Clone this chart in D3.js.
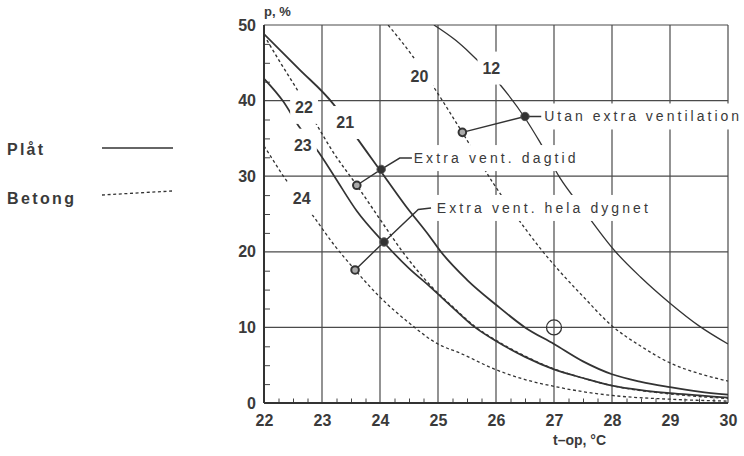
<!DOCTYPE html>
<html><head><meta charset="utf-8">
<script src="https://cdn.jsdelivr.net/npm/d3@7"></script>
<style>body{margin:0;background:#fff}svg{display:block}</style>
</head><body><svg id="c" width="744" height="456"></svg>
<script>
// ---- data ----
const xTicks=[22,23,24,25,26,27,28,29,30];
const yTicks=[0,10,20,30,40,50];
const xMinor=[22.25,22.5,22.75,23.25,23.5,23.75,24.25,24.5,24.75,25.25,25.5,25.75,26.25,26.5,26.75,27.25,27.5,27.75,28.25,28.5,28.75,29.25,29.5,29.75];
const yMinor=[2.5,5,7.5,12.5,15,17.5,22.5,25,27.5,32.5,35,37.5,42.5,45,47.5];
const curve12=[[24.93,50],[25.3,48.0],[25.55,46.3],[26.05,42.3],[26.5,37.7],[26.75,34.6],[27.1,29.8],[27.5,25.6],[28.05,20.1],[28.5,16.6],[29,13.2],[29.5,10.2],[30,7.8]];
const curve20=[[24.14,50],[24.57,45.8],[24.95,41.5],[25.41,35.9],[25.95,29.1],[26.5,23.1],[26.8,20.1],[27.1,17.4],[27.5,14.1],[28,10.2],[28.5,7.5],[29,5.3],[29.5,3.9],[30,2.9]];
const curve21=[[22,48.8],[22.6,44.2],[23.2,39.5],[23.57,35.4],[24,30.8],[24.45,26.0],[24.86,22.0],[25.03,20.2],[25.5,16.3],[26,13.0],[26.5,10.0],[27,7.8],[27.5,5.5],[28,3.8],[28.5,2.8],[29,2.1],[29.5,1.5],[30,1.1]];
const curve22=[[22.05,48.0],[22.3,44.8],[22.56,41.6],[22.88,37.2],[23.2,33.1],[23.6,28.8],[24,24.3],[24.4,19.9],[24.9,15.3],[25.3,12.4],[25.64,10.1],[26,8.3],[26.5,6.2],[27,4.5],[27.5,3.3],[28,2.3],[29,1.2],[30,0.6]];
const curve23=[[22,42.9],[22.33,39.9],[22.6,36.6],[22.94,33.2],[23.22,29.9],[23.6,25.4],[24.07,21.2],[24.5,17.8],[24.86,15.4],[25.3,12.3],[25.64,10.0],[26,8.2],[26.5,6.1],[27,4.45],[27.5,3.3],[28,2.3],[28.5,1.7],[29,1.3],[29.5,1.0],[30,0.7]];
const curve24=[[22,34.0],[22.1,32.8],[22.3,30.4],[22.88,24.4],[23.2,21.0],[23.57,17.6],[24,14.0],[24.5,10.6],[25,7.8],[25.38,6.6],[26,4.4],[26.5,3.1],[27,2.2],[27.5,1.5],[28,1.0],[29,0.5],[30,0.25]];
const curveNames=["12","20","21","22","23","24"];
const curveLabelPos=[[25.92,44.3],[24.68,43.2],[23.4,37.1],[22.69,39.1],[22.67,34.1],[22.65,27.1]];
const annotTexts=["Utan extra ventilation","Extra vent. dagtid","Extra vent. hela dygnet"];
const annotPlat=[[26.5,37.9],[24.02,30.9],[24.07,21.3]];
const annotBetong=[[25.42,35.8],[23.6,28.8],[23.57,17.6]];
const annotKnee=[[26.5,37.9],[24.34,32.4],[24.66,25.6]];
const annotEnd=[[26.78,37.9],[24.55,32.4],[24.88,25.8]];
const annotTextStart=[[26.83,37.9],[24.58,32.4],[24.98,25.8]];
const annotTextWidth=[195,162,211];
const bigCircle=[27,10];
const legendNames=["Plåt","Betong"];

// ---- drawing ----
const svg=d3.select("#c");
const x=d3.scaleLinear().domain([22,30]).range([264,728]);
const y=d3.scaleLinear().domain([0,50]).range([403,25]);
const ink="#3a3a3a";
const font="'Liberation Sans', Arial, Helvetica, sans-serif";

svg.append("rect").attr("width",744).attr("height",456).attr("fill","#fff");

// grid
const grid=svg.append("g").attr("stroke","#4a4a4a").attr("stroke-width",1.2);
grid.selectAll("line.v").data(xTicks.slice(1)).join("line").attr("class","v")
  .attr("x1",d=>x(d)).attr("x2",d=>x(d)).attr("y1",y(0)).attr("y2",y(50));
grid.selectAll("line.h").data(yTicks.slice(1)).join("line").attr("class","h")
  .attr("x1",x(22)).attr("x2",x(30)).attr("y1",d=>y(d)).attr("y2",d=>y(d));

// minor ticks
const xm=svg.append("g").attr("transform",`translate(0,${y(0)})`)
  .call(d3.axisBottom(x).tickValues(xMinor).tickSize(-4.5).tickFormat(""));
xm.select(".domain").remove();
xm.selectAll("line").attr("stroke","#444").attr("stroke-width",1);
const ym=svg.append("g").attr("transform",`translate(${x(22)},0)`)
  .call(d3.axisLeft(y).tickValues(yMinor).tickSize(-6).tickFormat(""));
ym.select(".domain").remove();
ym.selectAll("line").attr("stroke","#444").attr("stroke-width",1);

// tick labels
const xa=svg.append("g").attr("transform",`translate(0,${y(0)})`)
  .call(d3.axisBottom(x).tickValues(xTicks).tickSize(0).tickPadding(12).tickFormat(d3.format("d")));
xa.select(".domain").remove();
xa.selectAll("text").attr("font-family",font).attr("font-size",16).attr("font-weight","bold").attr("fill",ink);
const ya=svg.append("g").attr("transform",`translate(${x(22)},0)`)
  .call(d3.axisLeft(y).tickValues(yTicks).tickSize(0).tickPadding(8).tickFormat(d3.format("d")));
ya.select(".domain").remove();
ya.selectAll("text").attr("font-family",font).attr("font-size",16).attr("font-weight","bold").attr("fill",ink);

// main axes
svg.append("line").attr("x1",x(22)).attr("x2",x(22)).attr("y1",y(0)).attr("y2",y(50)).attr("stroke","#333").attr("stroke-width",2);
svg.append("line").attr("x1",x(22)).attr("x2",x(30)).attr("y1",y(0)).attr("y2",y(0)).attr("stroke","#333").attr("stroke-width",2);

// axis titles
svg.append("text").attr("x",x(22)).attr("y",16).attr("font-family",font).attr("font-size",13).attr("font-weight","bold").attr("fill",ink).text("p, %");
svg.append("text").attr("x",x(27)-1).attr("y",445).attr("font-family",font).attr("font-size",14).attr("font-weight","bold").attr("fill",ink).text("t–op, °C");

// curves
svg.append("clipPath").attr("id","clip").append("rect").attr("x",x(22)).attr("y",y(50)).attr("width",x(30)-x(22)).attr("height",y(0)-y(50));
const line=d3.line().x(d=>x(d[0])).y(d=>y(d[1])).curve(d3.curveMonotoneX);
const curves=[
  {d:curve12,dash:null,w:1.3},
  {d:curve20,dash:"3,2.6",w:1.3},
  {d:curve21,dash:null,w:1.8},
  {d:curve22,dash:"3,2.6",w:1.4},
  {d:curve23,dash:null,w:1.7},
  {d:curve24,dash:"3,2.6",w:1.3}
];
const cg=svg.append("g").attr("clip-path","url(#clip)");
cg.selectAll("path").data(curves).join("path")
  .attr("d",c=>line(c.d)).attr("fill","none").attr("stroke","#333")
  .attr("stroke-width",c=>c.w).attr("stroke-dasharray",c=>c.dash);

// labels with white background
function labelWithBg(parent,tx,ty,str,opts,pad){
  const g=parent.append("g");
  const t=g.append("text").attr("x",tx).attr("y",ty).text(str)
    .attr("font-family",font).attr("fill",ink);
  Object.entries(opts).forEach(([k,v])=>t.attr(k,v));
  const b=t.node().getBBox();
  g.insert("rect","text").attr("x",b.x-pad[0]).attr("y",b.y-pad[1]).attr("width",b.width+2*pad[0]).attr("height",b.height+2*pad[1]).attr("fill","#fff");
  return g;
}
const lg=svg.append("g");
curveNames.forEach((n,i)=>{
  labelWithBg(lg,x(curveLabelPos[i][0]),y(curveLabelPos[i][1]),n,
    {"font-size":16,"font-weight":"bold","text-anchor":"middle","dominant-baseline":"central"},[5,8]);
});

// annotations
const ag=svg.append("g");
annotTexts.forEach((s,i)=>{
  labelWithBg(ag,x(annotTextStart[i][0]),y(annotTextStart[i][1]),s,
    {"font-size":14,"dominant-baseline":"central","textLength":annotTextWidth[i],"lengthAdjust":"spacing"},[3,5]);
  const pts=[annotBetong[i],annotPlat[i],annotKnee[i],annotEnd[i]];
  ag.append("path").attr("d",d3.line().x(d=>x(d[0])).y(d=>y(d[1]))(pts))
    .attr("fill","none").attr("stroke","#333").attr("stroke-width",1.4);
});
ag.selectAll("circle.p").data(annotPlat).join("circle").attr("class","p")
  .attr("cx",d=>x(d[0])).attr("cy",d=>y(d[1])).attr("r",4.2).attr("fill","#333").attr("stroke","#555").attr("stroke-width",1);
ag.selectAll("circle.b").data(annotBetong).join("circle").attr("class","b")
  .attr("cx",d=>x(d[0])).attr("cy",d=>y(d[1])).attr("r",3.8).attr("fill","#aaa").attr("stroke","#333").attr("stroke-width",2);
svg.append("circle").attr("cx",x(bigCircle[0])).attr("cy",y(bigCircle[1])).attr("r",7.5)
  .attr("fill","none").attr("stroke","#333").attr("stroke-width",1.3);

// legend
const leg=svg.append("g");
leg.append("text").attr("x",7).attr("y",155).attr("font-family",font).attr("font-size",16).attr("font-weight","bold").attr("fill",ink)
  .attr("textLength",36).attr("lengthAdjust","spacing").text(legendNames[0]);
leg.append("text").attr("x",7).attr("y",204).attr("font-family",font).attr("font-size",16).attr("font-weight","bold").attr("fill",ink)
  .attr("textLength",67).attr("lengthAdjust","spacing").text(legendNames[1]);
leg.append("line").attr("x1",102).attr("x2",173).attr("y1",148).attr("y2",148).attr("stroke","#333").attr("stroke-width",1.3);
leg.append("line").attr("x1",102).attr("x2",172).attr("y1",195).attr("y2",191).attr("stroke","#333").attr("stroke-width",1.3).attr("stroke-dasharray","3,2.6");
</script>
</body></html>
